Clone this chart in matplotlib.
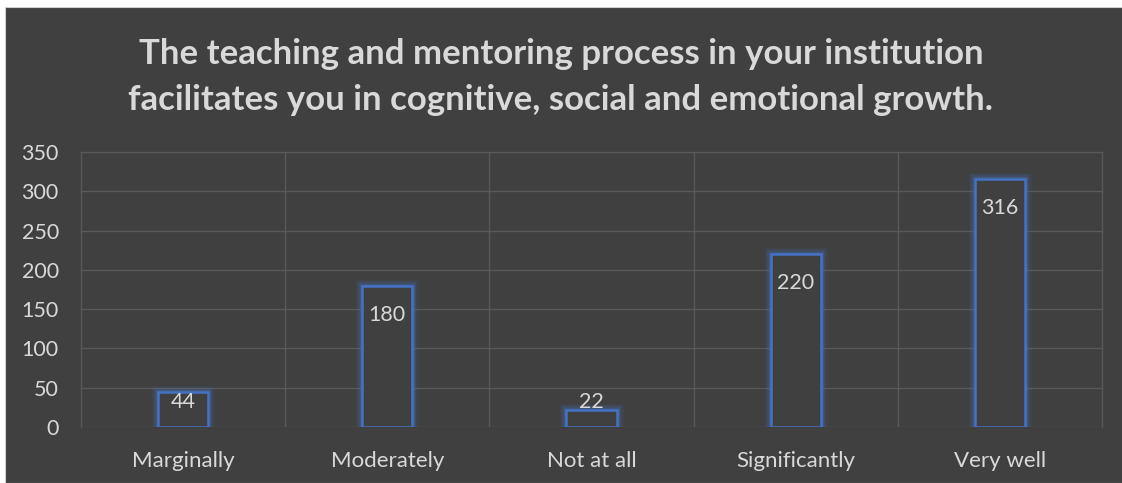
import matplotlib.pyplot as plt
import matplotlib.patheffects as pe

categories = ['Marginally', 'Moderately', 'Not at all', 'Significantly', 'Very well']
counts = [44, 180, 22, 220, 316]
yticks = [0, 50, 100, 150, 200, 250, 300, 350]

bg = '#404040'
grid = '#595959'
txt = '#d9d9d9'
blue = '#4472c4'

plt.rcParams['font.family'] = ['Lato', 'DejaVu Sans']

fig = plt.figure(figsize=(11.22, 4.83), dpi=100)
fig.patch.set_facecolor('white')
# dark chart area (white strip at top and left like the screenshot)
fig.add_artist(plt.Rectangle((5 / 1122, 0), 1, 1 - 7 / 483, transform=fig.transFigure,
                             facecolor=bg, edgecolor='#d0d0d0', lw=0.8, zorder=-5))

ax = fig.add_axes([81 / 1122, 1 - 427 / 483, 1021 / 1122, 275 / 483])
ax.set_facecolor(bg)

x = range(len(categories))
bars = ax.bar(x, counts, width=0.245, facecolor=bg, edgecolor=blue, linewidth=1.8, zorder=3)
glow = [pe.Stroke(linewidth=9, foreground=blue, alpha=0.1),
        pe.Stroke(linewidth=6, foreground=blue, alpha=0.18),
        pe.Stroke(linewidth=3.5, foreground=blue, alpha=0.3),
        pe.Normal()]
for b in bars:
    b.set_path_effects(glow)

# value labels inside the top of each bar (kept above the baseline for short bars)
for i, v in enumerate(counts):
    ax.text(i, max(v - 37, 32), str(v), ha='center', va='center',
            color=txt, fontsize=15.5, zorder=5)

ax.set_xlim(-0.5, len(categories) - 0.5)
ax.set_ylim(0, 350)
ax.set_yticks(yticks)
ax.set_xticks(list(x))
ax.set_xticklabels(categories)
ax.tick_params(axis='both', colors=txt, length=0)
ax.tick_params(axis='y', pad=16, labelsize=15.5)
ax.tick_params(axis='x', pad=17, labelsize=16)

# horizontal grid and category separators
for y in yticks:
    ax.axhline(y, color=grid, lw=1, zorder=1)
for s in [0.5, 1.5, 2.5, 3.5]:
    ax.axvline(s, color=grid, lw=1, zorder=1)
for sp in ax.spines.values():
    sp.set_color(grid)
    sp.set_linewidth(1)
ax.spines['bottom'].set_visible(False)

fig.text(0.5, 1 - 77 / 483,
         'The teaching and mentoring process in your institution\n'
         'facilitates you in cognitive, social and emotional growth.',
         ha='center', va='center', color=txt, fontsize=25, fontweight='bold',
         linespacing=1.5)

fig.savefig('out.png', dpi=100, facecolor=fig.get_facecolor())
